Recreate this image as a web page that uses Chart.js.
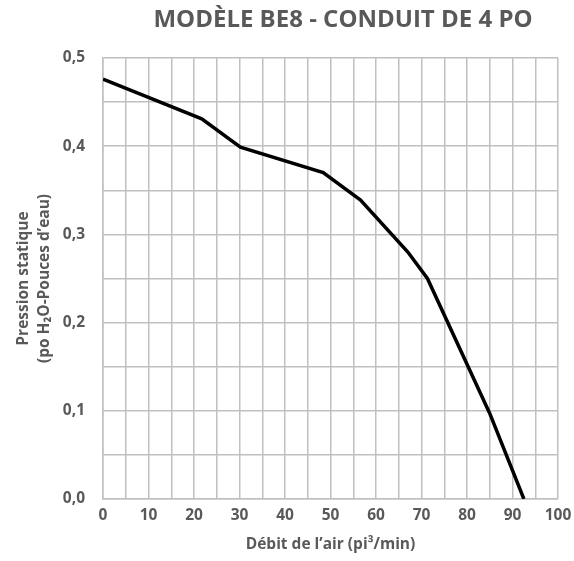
<!DOCTYPE html>
<html>
<head>
<meta charset="utf-8">
<script src="https://cdn.jsdelivr.net/npm/chart.js@4/dist/chart.umd.min.js"></script>
<style>
    body { margin: 0; background: #fff; }
    #wrap { position: relative; width: 574px; height: 561px; }
    #title {
        position: absolute; top: 1px; left: 0; width: 574px;
        padding-left: 112px; box-sizing: border-box;
        text-align: center; font: bold 24px 'Open Sans', sans-serif; color: #595959;
        white-space: nowrap;
    }
</style>
</head>
<body>
<div id="wrap">
    <div id="title">MODÈLE BE8 - CONDUIT DE 4 PO</div>
    <canvas id="fanChart" width="574" height="561"></canvas>
</div>
<script>
// Débit d'air (pi³/min) et pression statique (po H2O)
const airflow = [0, 21.7, 30.2, 48.4, 56.6, 67, 71.3, 85, 92.5];
const pressure = [0.476, 0.431, 0.399, 0.370, 0.339, 0.280, 0.250, 0.097, 0];

const xTicks = [0, 10, 20, 30, 40, 50, 60, 70, 80, 90, 100];
const yTicks = [0.0, 0.1, 0.2, 0.3, 0.4, 0.5];

const textColor = '#595959';
const gridColor = '#c0c0c0';
const labelFont = { family: 'Open Sans', size: 15.5, weight: 'bold', lineHeight: 1.3 };

document.addEventListener('DOMContentLoaded', () => {
    const ctx = document.getElementById('fanChart');

    new Chart(ctx, {
        type: 'line',
        data: {
            datasets: [{
                data: airflow.map((x, i) => ({ x: x, y: pressure[i] })),
                borderColor: '#000',
                borderWidth: 3.5,
                pointRadius: 0,
                tension: 0,
                fill: false
            }]
        },
        options: {
            responsive: false,
            animation: false,
            layout: {
                padding: { left: 8, right: 16, top: 58, bottom: 6 }
            },
            plugins: {
                legend: { display: false },
                tooltip: { enabled: false }
            },
            scales: {
                x: {
                    type: 'linear',
                    min: xTicks[0],
                    max: xTicks[xTicks.length - 1],
                    grid: { color: gridColor, lineWidth: 1.5, drawTicks: false },
                    border: { color: gridColor, width: 1.5 },
                    ticks: {
                        stepSize: 5,
                        padding: 7,
                        color: textColor,
                        font: labelFont,
                        maxRotation: 0,
                        autoSkip: false,
                        // only every second line gets a label
                        callback: (v) => xTicks.includes(v) ? String(v) : ''
                    },
                    title: {
                        display: true,
                        text: 'Débit de l’air (pi³/min)',
                        color: textColor,
                        font: labelFont,
                        padding: { top: 4, bottom: 0 }
                    },
                    afterFit: (scale) => {
                        scale.height = 56;
                        // let the "100" label hang into the right margin
                        scale.paddingRight = 0;
                        scale.paddingLeft = 0;
                    }
                },
                y: {
                    min: yTicks[0],
                    max: yTicks[yTicks.length - 1],
                    grid: { color: gridColor, lineWidth: 1.5, drawTicks: false },
                    border: { color: gridColor, width: 1.5 },
                    ticks: {
                        stepSize: 0.05,
                        padding: 18,
                        color: textColor,
                        font: labelFont,
                        autoSkip: false,
                        callback: (v) => {
                            const hit = yTicks.find(t => Math.abs(t - v) < 1e-6);
                            return hit === undefined ? '' : hit.toFixed(1).replace('.', ',');
                        }
                    },
                    title: {
                        display: true,
                        text: ['Pression statique', '(po H₂O-Pouces d’eau)'],
                        color: textColor,
                        font: labelFont,
                        padding: { top: 6, bottom: 0 }
                    },
                    afterFit: (scale) => { scale.width = 95; }
                }
            }
        }
    });
});
</script>
</body>
</html>
